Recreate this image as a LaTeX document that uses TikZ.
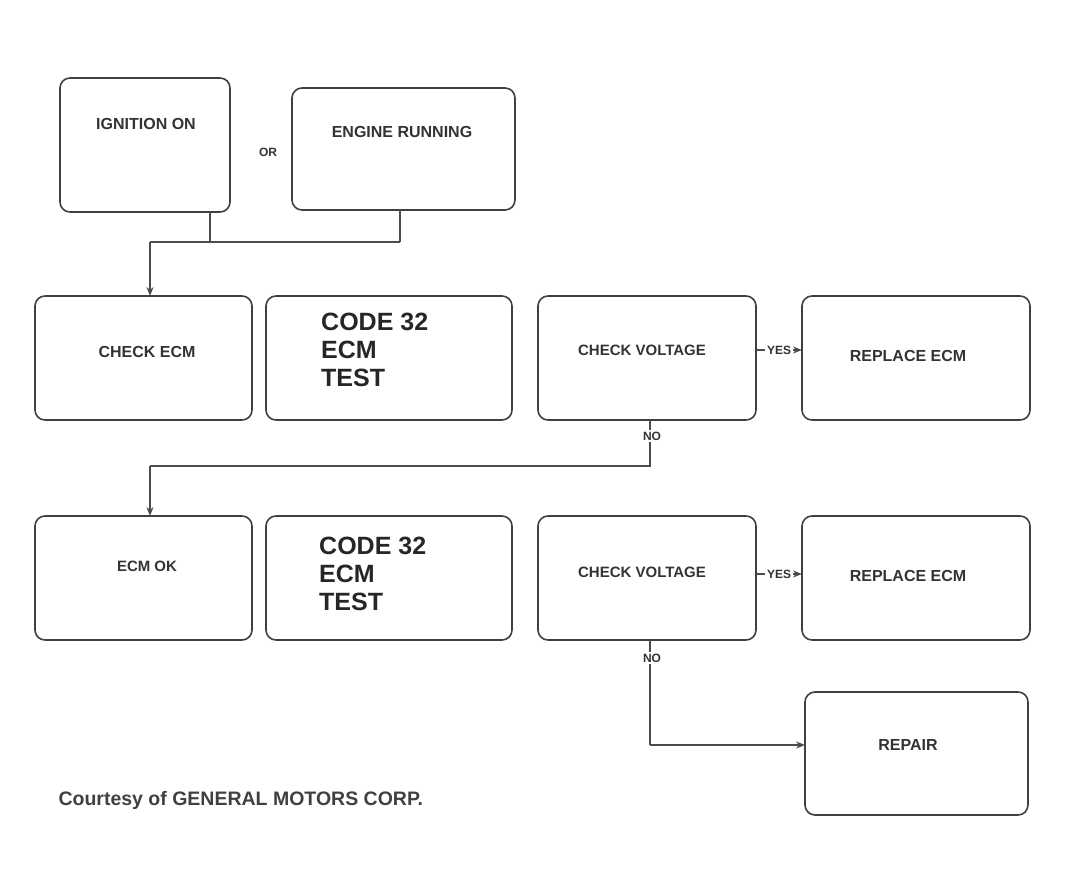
\documentclass[tikz,border=0pt]{standalone}
\usepackage{fontspec}
\setmainfont{Liberation Sans}
\usetikzlibrary{arrows.meta}
\begin{document}
\begin{tikzpicture}[x=1pt,y=-1pt,
  box/.style={draw=black!75,line width=1.6pt,rounded corners=10pt},
  lbl/.style={font=\bfseries\fontsize{16}{18}\selectfont,text=black!80,align=center},
  small/.style={font=\bfseries\fontsize{12}{14}\selectfont,text=black!80,fill=white,inner sep=2pt},
  heavy/.style={font=\bfseries\fontsize{25}{28}\selectfont,text=black!85,align=left,anchor=west,inner sep=1pt},
  wire/.style={draw=black!70,line width=1.6pt},
  arr/.style={wire,-{Stealth[length=9pt,width=7pt]}}]
\useasboundingbox (0,0) rectangle (1067,890);
% top row
\draw[box] (60,78) rectangle (230,212);
\draw[box] (292,88) rectangle (515,210);
\node[lbl] (t1) at (146,124) {IGNITION ON};
\node[lbl] (t2) at (402,132) {ENGINE RUNNING};
\node[small,fill=none] (tor) at (268,152) {OR};
\coordinate (a1) at (210,212);
\coordinate (a2) at (400,210);
\coordinate (j1) at (210,242);
\coordinate (j2) at (400,242);
\coordinate (j0) at (150,242);
\coordinate (r2in) at (150,296);
\draw[wire] (a1) -- (j1) (a2) -- (j2);
\draw[wire] (j2) -- (j0);
\draw[arr] (j0) -- (r2in);
% row 2
\draw[box] (35,296) rectangle (252,420);
\draw[box] (266,296) rectangle (512,420);
\draw[box] (538,296) rectangle (756,420);
\draw[box] (802,296) rectangle (1030,420);
\node[lbl] (b11) at (147,352) {CHECK ECM};
\node[heavy] (b12) at (320,350) {CODE 32\\ECM\\TEST};
\node[lbl,font=\bfseries\fontsize{15}{17}\selectfont] (b13) at (642,350) {CHECK VOLTAGE};
\node[lbl] (b14) at (908,356) {REPLACE ECM};
\draw[arr] (756,350) -- (802,350);
\node[small] (y1) at (779,350) {YES};
\coordinate (c1) at (650,420);
\coordinate (c2) at (650,466);
\coordinate (c3) at (150,466);
\coordinate (r3in) at (150,516);
\draw[wire] (c1) -- (c2) -- (c3);
\draw[arr] (c3) -- (r3in);
\node[small] (n1) at (652,436) {NO};
% row 3
\draw[box] (35,516) rectangle (252,640);
\draw[box] (266,516) rectangle (512,640);
\draw[box] (538,516) rectangle (756,640);
\draw[box] (802,516) rectangle (1030,640);
\node[lbl,font=\bfseries\fontsize{15}{17}\selectfont] (b21) at (147,566) {ECM OK};
\node[heavy] (b22) at (318,574) {CODE 32\\ECM\\TEST};
\node[lbl,font=\bfseries\fontsize{15}{17}\selectfont] (b23) at (642,572) {CHECK VOLTAGE};
\node[lbl] (b24) at (908,576) {REPLACE ECM};
\draw[arr] (756,574) -- (802,574);
\node[small] (y2) at (779,574) {YES};
% bottom
\draw[box] (805,692) rectangle (1028,815);
\node[lbl] (b31) at (908,745) {REPAIR};
\coordinate (d1) at (650,640);
\coordinate (d2) at (650,745);
\draw[wire] (d1) -- (d2);
\draw[arr] (d2) -- (805,745);
\node[small] (n2) at (652,658) {NO};
\node[font=\bfseries\fontsize{19.5}{21}\selectfont,text=black!75,anchor=west] (foot) at (55,800) {Courtesy of GENERAL MOTORS CORP.};
\end{tikzpicture}
\end{document}
